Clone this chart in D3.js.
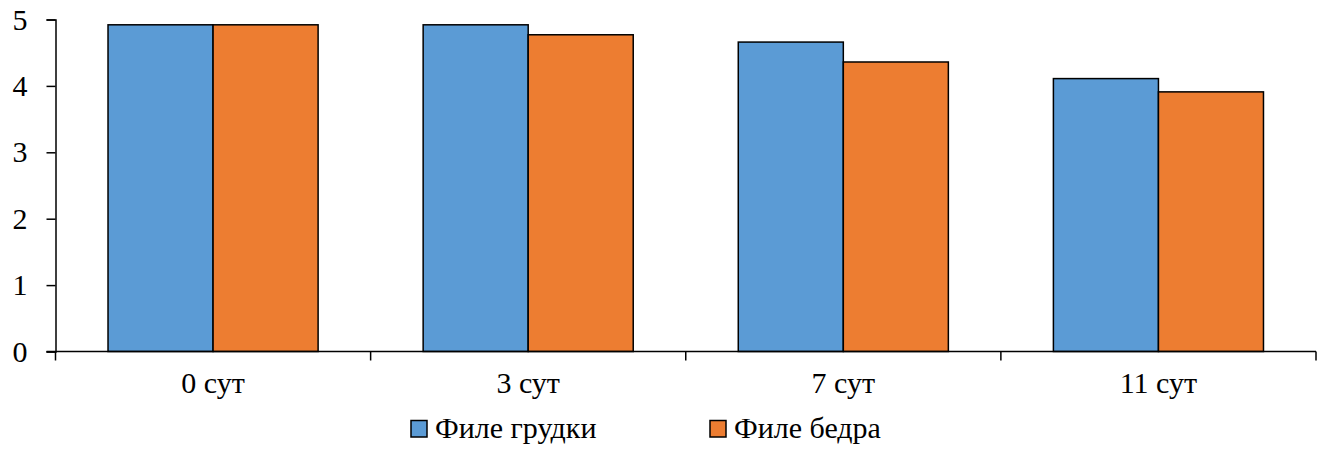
<!DOCTYPE html>
<html>
<head>
<meta charset="utf-8">
<script src="https://cdn.jsdelivr.net/npm/d3@7"></script>
<style>
  svg text.lbl { font-family: "Liberation Serif", Tinos, "Times New Roman", serif !important; font-size: 30px !important; }
</style>
</head>
<body style="margin:0">
<svg id="chart" width="1327" height="449" font-family="Liberation Serif"></svg>
<script>
// Storage days
const categories = ["0 сут", "3 сут", "7 сут", "11 сут"];
// Series
const seriesNames = ["Филе грудки", "Филе бедра"];
const breastValues = [4.92, 4.92, 4.66, 4.11];
const thighValues = [4.92, 4.77, 4.36, 3.91];
const seriesColors = ["#5B9BD5", "#ED7D31"];
const yTicks = [0, 1, 2, 3, 4, 5];

const svg = d3.select("#chart");
const margin = { left: 55.5, right: 11, top: 19.5, bottom: 97.5 };
const width = 1327, height = 449;

const x = d3.scaleBand()
  .domain(categories)
  .range([margin.left, width - margin.right])
  .paddingInner(0)
  .paddingOuter(0);

const y = d3.scaleLinear()
  .domain([0, 5])
  .range([height - margin.bottom, margin.top]);

// Two bars per category, half a bar width of empty space on each side
const inner = d3.scaleBand()
  .domain(seriesNames)
  .range([0, x.bandwidth()])
  .paddingOuter(0.5)
  .paddingInner(0);

const rows = categories.map((c, i) => ({
  cat: c,
  values: [
    { name: seriesNames[0], value: breastValues[i], color: seriesColors[0] },
    { name: seriesNames[1], value: thighValues[i], color: seriesColors[1] }
  ]
}));

// Bars
const groups = svg.append("g").selectAll("g")
  .data(rows).join("g")
  .attr("transform", d => `translate(${x(d.cat)},0)`);

groups.selectAll("rect")
  .data(d => d.values).join("rect")
  .attr("x", d => inner(d.name))
  .attr("y", d => y(d.value))
  .attr("width", inner.bandwidth())
  .attr("height", d => y(0) - y(d.value))
  .attr("fill", d => d.color)
  .attr("stroke", "#000")
  .attr("stroke-width", 1.5);

// Y axis
const yAxis = svg.append("g")
  .attr("transform", `translate(${margin.left},0)`)
  .call(d3.axisLeft(y).tickValues(yTicks).tickFormat(d3.format("d")).tickSize(9).tickPadding(19));
yAxis.attr("font-family", "Liberation Serif").attr("font-size", 30);
yAxis.select(".domain").attr("stroke", "#000").attr("stroke-width", 1.5);
yAxis.selectAll(".tick line").attr("stroke", "#000").attr("stroke-width", 1.5);
yAxis.selectAll(".tick text").attr("class", "lbl").attr("fill", "#000");

// X axis: ticks at category boundaries
const xAxisG = svg.append("g")
  .attr("transform", `translate(0,${y(0)})`)
  .attr("font-family", "Liberation Serif").attr("font-size", 30);
xAxisG.append("line")
  .attr("x1", margin.left - 9).attr("x2", width - margin.right)
  .attr("stroke", "#000").attr("stroke-width", 1.5);
const boundaries = categories.map(c => x(c)).concat([x(categories[categories.length - 1]) + x.bandwidth()]);
xAxisG.selectAll("line.b")
  .data(boundaries).join("line")
  .attr("class", "b")
  .attr("x1", d => d).attr("x2", d => d)
  .attr("y1", 0).attr("y2", 9)
  .attr("stroke", "#000").attr("stroke-width", 1.5);
xAxisG.selectAll("text")
  .data(categories).join("text")
  .attr("class", "lbl")
  .attr("x", d => x(d) + x.bandwidth() / 2)
  .attr("y", 41)
  .attr("text-anchor", "middle")
  .attr("fill", "#000")
  .text(d => d);

// Legend
const legendItems = [
  { name: seriesNames[0], color: seriesColors[0], x: 411 },
  { name: seriesNames[1], color: seriesColors[1], x: 710 }
];
const legend = svg.append("g").attr("font-family", "Liberation Serif").attr("font-size", 30);
legendItems.forEach(it => {
  legend.append("rect")
    .attr("x", it.x).attr("y", 420.5)
    .attr("width", 16).attr("height", 16.5)
    .attr("fill", it.color)
    .attr("stroke", "#000").attr("stroke-width", 1.5);
  legend.append("text")
    .attr("class", "lbl")
    .attr("x", it.x + 24).attr("y", 438)
    .attr("fill", "#000")
    .text(it.name);
});
</script>
</body>
</html>
